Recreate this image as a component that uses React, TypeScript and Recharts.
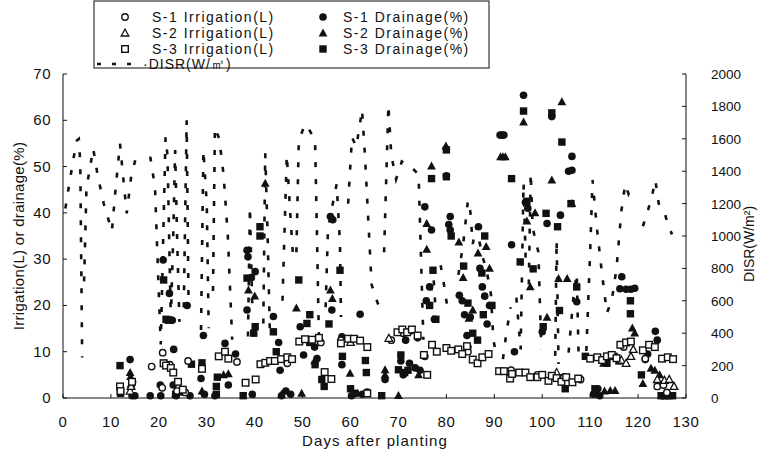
import { ComposedChart, Scatter, Line, XAxis, YAxis } from "recharts";

const dayTicks = [0, 10, 20, 30, 40, 50, 60, 70, 80, 90, 100, 110, 120, 130];
const leftTicks = [0, 10, 20, 30, 40, 50, 60, 70];
const rightTicks = [0, 200, 400, 600, 800, 1000, 1200, 1400, 1600, 1800, 2000];

// [day, value]
const s1Irrigation = [
  [14.5, 3.5], [18.5, 6.8], [20.8, 9.8], [20.7, 2.2], [22.3, 7.2], [23.8, 1.5], [25.5, 1.2],
  [26.1, 8.0], [29, 6.5], [36.3, 7.8], [46.8, 7.5], [53.8, 12], [58, 12.5], [68.5, 12.5],
  [71, 14], [75.5, 9], [84.5, 10], [93.5, 6], [99, 5], [104.5, 4.5], [108, 4], [117, 11],
  [121.5, 8.5], [124, 2.5], [125.3, 2.8], [126, 1.2],
];

const s2Irrigation = [
  [14, 1.5], [14.2, 2.5], [60, 12], [68, 12.9], [103, 5.5], [116.5, 8.2], [117.5, 7.5],
  [118.5, 9], [119, 10.5], [124, 4], [125.5, 3.8], [126.5, 4], [127.5, 2.5],
];

const s3Irrigation = [
  [11.9, 2.5], [12, 1.5], [14.4, 3.5], [21, 7.5], [21.5, 7], [22.5, 6.5], [23, 5.5], [24, 3.5],
  [25, 1.8], [29, 6.3], [32.5, 9], [33.8, 10], [34.5, 8.5], [38.1, 3.3], [40.2, 4], [41.2, 7.3],
  [42.2, 7.6], [43.2, 8], [44.2, 8], [45.5, 8.4], [46.8, 8.8], [47.8, 8.4], [49.3, 12.2],
  [50.5, 12.7], [52, 12.6], [53.4, 13], [54.6, 5.6], [56, 4.1], [58, 11.8], [59.5, 12.8],
  [60.7, 12.8], [62, 12.4], [63.5, 11], [63.5, 1], [69.8, 14.2], [70.8, 14.8], [71.8, 14.2],
  [72.8, 14.8], [74, 13.5], [75.3, 9.3], [76, 5], [77, 11.5], [78, 10], [80, 10.8], [81, 10.2],
  [82.5, 10.5], [83.3, 9.5], [84.3, 11.2], [85.5, 8.3], [86.5, 7.5], [87.5, 8.8], [88.8, 9.5],
  [91, 5.8], [92, 5.8], [93.3, 4.2], [93.7, 5.2], [95.2, 5.5], [96.5, 5.5], [97.5, 4.5], [99, 4.5],
  [100, 5], [101.3, 3.7], [102, 4.8], [103, 4.3], [104, 3.5], [105, 4.5], [106.3, 3.4],
  [107.5, 4.2], [110, 8.5], [111.5, 8.8], [112.5, 8.2], [113.5, 9], [114.5, 9.3], [115.5, 8.6],
  [116.3, 11.5], [117.5, 12], [118.5, 12.2], [121, 10.3], [122.3, 11.5], [123.5, 11], [125, 8.5],
  [126.2, 8.8], [127.3, 8.4],
];

const s1Drainage = [
  [14, 8.3], [14.4, 0.5], [15, 0.5], [18.2, 0.5], [20.3, 2.8], [20.4, 0.5], [20.9, 29.8],
  [22.2, 22.6], [22.8, 16.8], [23.1, 10.5], [23, 2.8], [23.6, 0.5], [25.9, 20], [26.5, 0.5],
  [28.8, 4.2], [29.3, 13.5], [29.5, 0.8], [31.7, 0.5], [33.8, 11.8], [34.5, 2.8], [36, 9.5],
  [38.4, 31.9], [38.6, 30.5], [39.3, 26], [40.1, 27.3], [38.4, 19], [39.5, 0.8], [43.9, 17.6],
  [45, 12], [45.3, 6], [45.6, 0.5], [46.5, 1.5], [47.5, 0.8], [49.5, 15.4], [50.2, 9.3],
  [52.5, 11], [53, 8.5], [55.8, 39.2], [56.3, 38.5], [56.1, 19], [58.2, 13.2], [58.2, 7.2],
  [60.2, 0.5], [61, 1], [62, 18.1], [62.5, 0.8], [63.5, 1.3], [67.2, 4], [70.5, 8], [71, 5],
  [71.5, 12.5], [72.3, 7.5], [72.5, 14.5], [73.5, 6.5], [74, 13], [74.5, 6], [75.5, 41.3],
  [75.8, 21], [76.9, 36.3], [76.5, 24], [77.5, 17], [80, 48], [80.8, 39.2], [80.5, 37.5],
  [80.8, 36.3], [82.7, 22.2], [83.3, 21], [83.8, 18], [84.5, 11], [84.3, 13.5], [85, 17.5],
  [86.7, 37], [87, 28], [87.5, 24], [88, 22], [88.5, 16], [89, 20], [91.2, 56.8], [91.6, 56.8],
  [92, 56.8], [93.6, 33.1], [94.2, 10], [96.1, 65.4], [96.5, 42.3], [97, 41], [100, 14.3],
  [101, 37.7], [102, 60.8], [103.8, 39.5], [105.5, 49], [106.2, 49.2], [106.2, 52.2],
  [107.2, 20.8], [110.7, 0.8], [111, 0.9], [111.6, 2], [112, 0.5], [116.6, 26.2], [116.2, 23.6],
  [117.5, 23.5], [118.5, 23.5], [119.3, 23.7], [121.5, 8.3], [122, 9.5], [123.6, 14.4],
  [124, 12.5], [125, 0.5], [126, 0.5],
];

const s2Drainage = [
  [14, 5.5], [14.1, 4.6], [14.2, 3], [23.5, 1], [29, 1.5], [33.5, 5], [34.5, 5.2], [38.7, 23.3],
  [40, 22], [42.2, 46.4], [45.6, 0.8], [48.7, 19.4], [49.8, 1], [52.5, 8], [55.8, 23.3],
  [56.2, 21.5], [59.9, 5.3], [61.5, 1], [67.2, 6.1], [67.2, 5], [70, 0.5], [74.2, 5],
  [75.9, 37.7], [75.9, 32.1], [76.9, 50.1], [79.9, 54.4], [82.6, 33.7], [83.5, 26], [84.7, 17.2],
  [85.5, 19], [86.6, 31.3], [88.3, 32.7], [89, 28], [91.3, 52.1], [91.8, 52.1], [92.3, 52.1],
  [96.1, 59.6], [96.8, 38.2], [97.5, 24], [98.5, 40], [101, 17.4], [102, 47.1], [104.1, 64],
  [106.2, 42], [103.4, 25.8], [105.2, 25.8], [112.8, 7.5], [113, 1.5], [114.2, 1.6],
  [115.2, 1.6], [118.8, 15.1], [119.3, 14], [121, 3.1], [122.7, 6.4], [123.5, 6], [124.5, 5],
];

const s3Drainage = [
  [11.9, 7], [12, 1], [21, 25.5], [21.5, 17], [22, 16.8], [21, 7.5], [23.5, 0.8], [24.3, 1.3],
  [26.8, 7.3], [29, 7.6], [32, 0.8], [32, 2.5], [32.2, 4.5], [37.6, 0.5], [38.4, 25.9],
  [39.8, 14], [40.1, 15.4], [41.1, 37], [41.1, 35], [43.9, 14.3], [44.5, 10], [49.2, 25.5],
  [50.9, 16.1], [51.5, 18], [51.5, 12], [52.6, 7.2], [54, 4], [54.5, 2.5], [55.5, 16],
  [57.8, 27.6], [58.3, 9], [60, 2], [63.1, 8.1], [63.3, 5.5], [66.5, 0.5], [70, 6.1], [70.5, 9.3],
  [71.3, 5.5], [72, 6], [76.9, 47.4], [77.2, 27.6], [76.5, 20], [77.8, 17], [80, 53.6],
  [80, 47.8], [81, 35], [83.6, 28.5], [84.5, 20.5], [85.5, 14], [86.5, 12.5], [87.4, 27],
  [87.7, 18], [89.5, 20], [88, 35], [93.6, 47.4], [95.4, 29.4], [96.1, 62], [96.8, 42.5],
  [98.1, 27.9], [100.2, 15.4], [100.8, 39.9], [102, 61.6], [103.2, 37], [103.6, 18.9],
  [104.1, 55.3], [104.8, 2], [106, 42], [107.2, 24], [109, 9], [111, 2], [113.5, 7.5], [115, 9],
  [116, 8], [118.4, 21], [118.4, 18.2], [120.7, 5], [124.8, 0.5], [125.6, 0.5], [126.5, 0.5],
  [127.2, 0.5],
];

// DISR trace, one array per unbroken stretch of the dotted line
const disrSegments = [
  [[0.5, 1170], [1.3, 1320], [2.2, 1480], [2.9, 1590], [3.3, 1600], [3.6, 1450], [4.0, 250]],
  [[4.4, 720], [4.9, 1300], [5.4, 1380], [6.3, 1540], [7.2, 1380], [8.5, 1200], [9.5, 1100],
    [10.2, 1030], [11.0, 1300], [11.9, 1570], [12.5, 1380], [13.3, 1140], [14.2, 1360],
    [15.0, 1460], [16.3, 1460]],
  [[18.2, 1490], [19.2, 1300], [19.8, 800], [20.4, 330], [21.0, 1100], [21.4, 1610],
    [21.8, 1500], [22.5, 480], [23.0, 1000], [23.4, 1530], [23.8, 1000], [24.3, 470]],
  [[25.2, 560], [25.8, 1715], [26.2, 580]],
  [[28.8, 420], [29.3, 1530], [30.0, 1200], [30.4, 430]],
  [[31.3, 660], [31.7, 1670], [32.6, 1600], [33.5, 1380], [34.4, 1000], [35.3, 360]],
  [[38.6, 380], [39.0, 1180], [39.5, 560]],
  [[41.8, 460], [42.2, 1510], [42.7, 1000], [43.2, 360]],
  [[45.8, 600], [46.7, 1500], [47.5, 1100], [48.1, 830]],
  [[48.7, 900], [49.2, 1590], [50.5, 1690], [51.5, 1650], [52.6, 1590], [53.0, 1000], [53.4, 360]],
  [[54.8, 560], [55.3, 1050], [57.1, 1320], [57.8, 950], [58.0, 500]],
  [[59.5, 1200], [60.3, 1610], [61.2, 1550], [62.0, 1700], [62.4, 1780], [63.0, 1500],
    [64.4, 700], [65.5, 600], [66.5, 520]],
  [[67.0, 900], [67.9, 1810], [68.5, 1500], [69.5, 1350], [70.7, 1460], [72.5, 1430],
    [74.2, 1380], [75.2, 360]],
  [[76.7, 560], [77.2, 800], [77.8, 520]],
  [[78.8, 820], [79.5, 700], [80.2, 560]],
  [[82.5, 760], [83.5, 950], [84.5, 1220], [85.0, 1150], [85.5, 950], [86.2, 1060], [87.5, 880],
    [88.5, 770], [89.3, 640], [89.8, 360], [90.2, 300]],
  [[91.8, 240], [92.5, 400], [93.4, 560]],
  [[94.6, 620], [95.5, 300], [96.1, 1330], [96.6, 800]],
  [[97.2, 700], [97.6, 1390], [98.0, 1050], [99.2, 900], [99.8, 300]],
  [[102.7, 260], [103.0, 975], [103.4, 210]],
  [[105.5, 280], [106.5, 620], [107.2, 770], [107.6, 250]],
  [[109.2, 290], [110.0, 900], [110.5, 1346], [111.4, 1050], [112.5, 760], [113.5, 525],
    [114.5, 600], [115.5, 800], [116.5, 1150], [117.3, 1320], [118.0, 1260], [118.7, 1310]],
  [[121.0, 1060], [122.0, 1150], [123.0, 1260], [123.6, 1345], [124.3, 1200], [125.5, 1150],
    [126.3, 1060], [127.1, 1010]],
];

const toPts = (arr: number[][]) => arr.map(([x, y]) => ({ x, y }));

const disrData: { x: number; y: number | null }[] = [];
disrSegments.forEach(seg => {
  seg.forEach(([x, y]) => disrData.push({ x, y }));
  disrData.push({ x: seg[seg.length - 1][0], y: null });
});

const INK = "#111";
const FONT = "'Liberation Sans', Arial, sans-serif";

const OpenCircle = ({ cx, cy }: any) => (
  <circle cx={cx} cy={cy} r={3.2} fill="#fff" stroke={INK} strokeWidth={1.4} />
);
const FilledCircle = ({ cx, cy }: any) => <circle cx={cx} cy={cy} r={3.8} fill={INK} />;
const OpenTriangle = ({ cx, cy }: any) => (
  <polygon
    points={`${cx},${cy - 4} ${cx - 3.8},${cy + 3} ${cx + 3.8},${cy + 3}`}
    fill="#fff"
    stroke={INK}
    strokeWidth={1.3}
  />
);
const FilledTriangle = ({ cx, cy }: any) => (
  <polygon points={`${cx},${cy - 4.6} ${cx - 4.4},${cy + 3.4} ${cx + 4.4},${cy + 3.4}`} fill={INK} />
);
const OpenSquare = ({ cx, cy }: any) => (
  <rect x={cx - 3.3} y={cy - 3.3} width={6.6} height={6.6} fill="#fff" stroke={INK} strokeWidth={1.4} />
);
const FilledSquare = ({ cx, cy }: any) => (
  <rect x={cx - 3.7} y={cy - 3.7} width={7.4} height={7.4} fill={INK} />
);

// plot frame (px) used for the inward tick marks
const PLOT = { left: 63, right: 686, top: 74, bottom: 398 };

const XTick = ({ x, payload }: any) => (
  <g>
    <line x1={x} x2={x} y1={PLOT.bottom} y2={PLOT.bottom - 4} stroke={INK} />
    <text x={x} y={427} textAnchor="middle" fontSize={15} fontFamily={FONT} fill={INK} letterSpacing={0.6}>
      {payload.value}
    </text>
  </g>
);
const LeftTick = ({ y, payload }: any) => (
  <g>
    <line x1={PLOT.left} x2={PLOT.left + 4} y1={y} y2={y} stroke={INK} />
    <text x={51} y={y + 5} textAnchor="end" fontSize={15} fontFamily={FONT} fill={INK} letterSpacing={0.5}>
      {payload.value}
    </text>
  </g>
);
const RightTick = ({ y, payload }: any) => (
  <g>
    <line x1={PLOT.right} x2={PLOT.right - 4} y1={y} y2={y} stroke={INK} />
    <text x={711} y={y + 5} textAnchor="start" fontSize={13.5} fontFamily={FONT} fill={INK}>
      {payload.value}
    </text>
  </g>
);

const legendItems = [
  { label: "S-1 Irrigation(L)", Shape: OpenCircle, col: 0, row: 0 },
  { label: "S-1 Drainage(%)", Shape: FilledCircle, col: 1, row: 0 },
  { label: "S-2 Irrigation(L)", Shape: OpenTriangle, col: 0, row: 1 },
  { label: "S-2 Drainage(%)", Shape: FilledTriangle, col: 1, row: 1 },
  { label: "S-3 Irrigation(L)", Shape: OpenSquare, col: 0, row: 2 },
  { label: "S-3 Drainage(%)", Shape: FilledSquare, col: 1, row: 2 },
];

function LegendBox() {
  return (
    <svg width={400} height={72} style={{ position: "absolute", left: 92, top: 0 }}>
      <rect x={2} y={1} width={395} height={67} fill="#fff" stroke="#333" strokeWidth={1.2} />
      {legendItems.map(it => {
        const mx = it.col === 0 ? 33 : 231;
        const tx = it.col === 0 ? 60 : 251;
        const cy = 17 + it.row * 16;
        return (
          <g key={it.label}>
            <it.Shape cx={mx} cy={cy} />
            <text x={tx} y={cy + 5} fontSize={14} fontFamily={FONT} fill={INK} letterSpacing={1.5}>
              {it.label}
            </text>
          </g>
        );
      })}
      <line x1={5} x2={48} y1={64} y2={64} stroke={INK} strokeWidth={2.5} strokeDasharray="4 11" />
      <text x={51} y={69} fontSize={14} fontFamily={FONT} fill={INK} letterSpacing={1}>
        ·DISR(W/㎡)
      </text>
    </svg>
  );
}

function Titles() {
  return (
    <svg width={758} height={449} style={{ position: "absolute", left: 0, top: 0, pointerEvents: "none" }}>
      <text
        transform="translate(24, 236) rotate(-90)"
        textAnchor="middle"
        fontSize={15}
        fontFamily={FONT}
        fill={INK}
        letterSpacing={0.3}
      >
        Irrigation(L) or drainage(%)
      </text>
      <text transform="translate(754, 244) rotate(-90)" textAnchor="middle" fontSize={14} fontFamily={FONT} fill={INK}>
        DISR(W/m²)
      </text>
      <text x={375} y={446} textAnchor="middle" fontSize={15} fontFamily={FONT} fill={INK} letterSpacing={1.1}>
        Days after planting
      </text>
    </svg>
  );
}

export default function App() {
  return (
    <div
      style={{
        position: "fixed",
        left: 0,
        top: 0,
        width: 758,
        height: 449,
        background: "#fff",
      }}
    >
      <ComposedChart
        width={758}
        height={449}
        margin={{ top: PLOT.top, right: 0, bottom: 0, left: 0 }}
      >
        <XAxis
          type="number"
          dataKey="x"
          domain={[0, 130]}
          ticks={dayTicks}
          allowDataOverflow
          height={51}
          axisLine={{ stroke: INK }}
          tickLine={false}
          tick={<XTick />}
        />
        <YAxis
          yAxisId="left"
          type="number"
          domain={[0, 70]}
          ticks={leftTicks}
          width={63}
          axisLine={{ stroke: INK }}
          tickLine={false}
          tick={<LeftTick />}
        />
        <YAxis
          yAxisId="right"
          orientation="right"
          type="number"
          domain={[0, 2000]}
          ticks={rightTicks}
          width={72}
          axisLine={{ stroke: INK }}
          tickLine={false}
          tick={<RightTick />}
        />
        <Line
          yAxisId="right"
          data={disrData}
          dataKey="y"
          stroke={INK}
          strokeWidth={2.6}
          strokeDasharray="5 12"
          dot={false}
          connectNulls={false}
          isAnimationActive={false}
        />
        <Scatter yAxisId="left" data={toPts(s1Drainage)} dataKey="y" shape={<FilledCircle />} isAnimationActive={false} />
        <Scatter yAxisId="left" data={toPts(s2Drainage)} dataKey="y" shape={<FilledTriangle />} isAnimationActive={false} />
        <Scatter yAxisId="left" data={toPts(s3Drainage)} dataKey="y" shape={<FilledSquare />} isAnimationActive={false} />
        <Scatter yAxisId="left" data={toPts(s1Irrigation)} dataKey="y" shape={<OpenCircle />} isAnimationActive={false} />
        <Scatter yAxisId="left" data={toPts(s2Irrigation)} dataKey="y" shape={<OpenTriangle />} isAnimationActive={false} />
        <Scatter yAxisId="left" data={toPts(s3Irrigation)} dataKey="y" shape={<OpenSquare />} isAnimationActive={false} />
      </ComposedChart>
      <LegendBox />
      <Titles />
    </div>
  );
}
